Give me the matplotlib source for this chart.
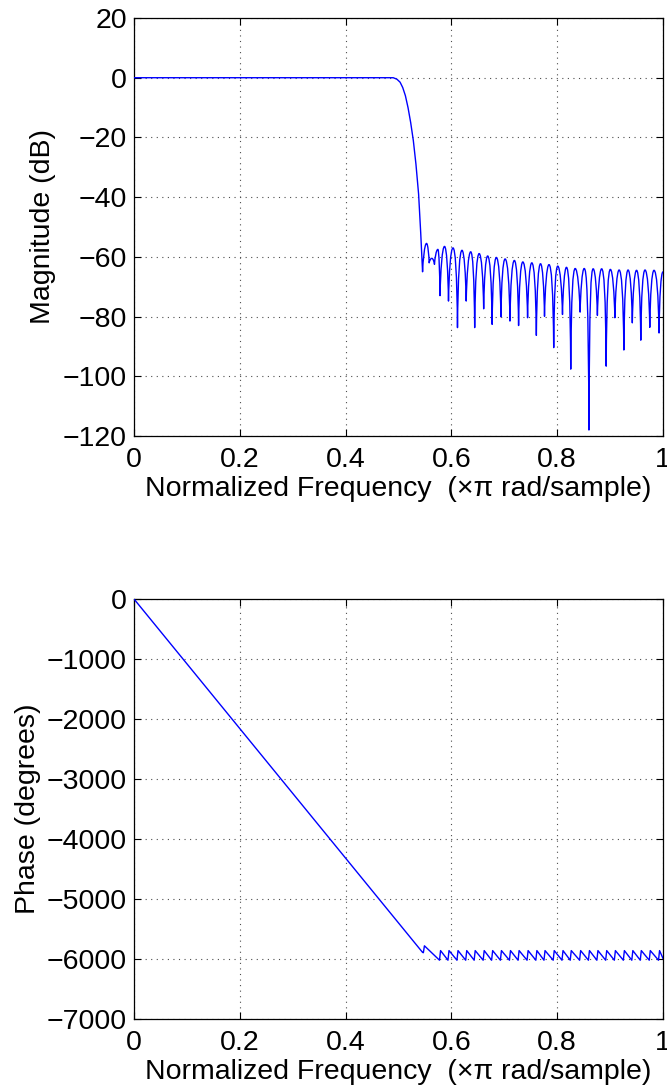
import matplotlib
matplotlib.use("Agg")
import matplotlib.pyplot as plt
from matplotlib.path import Path
from matplotlib.patches import PathPatch

# ---- magnitude response (dB) ----
# passband and transition band
pass_f = [0.0, 0.49, 0.497, 0.503, 0.508, 0.513, 0.518, 0.523, 0.528, 0.533, 0.538, 0.542, 0.5455]
pass_db = [0.0, 0.0, -0.5, -1.5, -3.3, -6.0, -10.0, -15.0, -21.0, -29.0, -39.0, -52.0, -65.0]

# stopband: alternating local minima / maxima
stop_f = [0.5455, 0.553, 0.558, 0.563, 0.568, 0.5745, 0.5785, 0.587, 0.5945, 0.603,
          0.6115, 0.620, 0.628, 0.6365, 0.644, 0.6525, 0.661, 0.6685, 0.677, 0.685,
          0.6936, 0.7015, 0.7107, 0.719, 0.727, 0.735, 0.744, 0.752, 0.7606, 0.7685,
          0.776, 0.7845, 0.7934, 0.801, 0.810, 0.8175, 0.8256, 0.834, 0.8433, 0.851,
          0.860, 0.868, 0.876, 0.884, 0.8926, 0.9005, 0.909, 0.917, 0.926, 0.934,
          0.942, 0.950, 0.958, 0.966, 0.975, 0.983, 0.9925, 1.0]
stop_db = [-65.0, -55.5, -62.0, -60.5, -62.5, -57.5, -73.0, -56.5, -74.8, -57.0,
           -83.7, -57.8, -74.8, -58.3, -83.7, -58.9, -77.4, -59.7, -82.6, -60.2,
           -80.1, -60.7, -81.5, -61.2, -83.0, -61.7, -80.4, -62.0, -86.3, -62.3,
           -79.9, -62.6, -90.4, -63.1, -79.3, -63.5, -97.6, -63.9, -78.5, -63.9,
           -118.0, -64.0, -79.6, -64.0, -96.6, -64.2, -80.4, -64.4, -91.2, -64.4,
           -82.1, -64.5, -87.9, -64.4, -83.6, -64.5, -85.5, -65.0]

# ---- phase response (degrees) ----
phase_lin_f = [0.0, 0.5455]
phase_lin_deg = [0.0, -5890.0]
# frequencies of the +180 degree phase jumps in the stopband
jump_f = [0.548, 0.5785, 0.5945, 0.6115, 0.628, 0.644, 0.661, 0.677, 0.6936, 0.7107,
          0.727, 0.744, 0.7606, 0.776, 0.7934, 0.810, 0.8256, 0.8433, 0.860, 0.876,
          0.8926, 0.909, 0.926, 0.942, 0.958, 0.975, 0.9925]
tooth_low = -6020.0
tooth_high = -5860.0
phase_end = -5990.0

xticks = [0, 0.2, 0.4, 0.6, 0.8, 1]
xticklabels = ["0", "0.2", "0.4", "0.6", "0.8", "1"]
mag_ticks = [20, 0, -20, -40, -60, -80, -100, -120]
phase_ticks = [0, -1000, -2000, -3000, -4000, -5000, -6000, -7000]

plt.rcParams["font.family"] = ["Liberation Sans", "DejaVu Sans"]
plt.rcParams["font.size"] = 20.5

BLUE = (0.0, 0.0, 1.0)


def magnitude_path():
    verts = [(pass_f[0], pass_db[0])]
    codes = [Path.MOVETO]
    for f, d in zip(pass_f[1:], pass_db[1:]):
        verts.append((f, d))
        codes.append(Path.LINETO)
    # rounded lobes between each minimum and maximum
    for i in range(len(stop_f) - 1):
        f1, d1, f2, d2 = stop_f[i], stop_db[i], stop_f[i + 1], stop_db[i + 1]
        w = f2 - f1
        if d2 > d1:
            drop = min(8.0, 0.6 * (d2 - d1))
            c1 = (f1 + 0.12 * w, d2 - drop)
            c2 = (f1 + 0.5 * w, d2)
        else:
            drop = min(8.0, 0.6 * (d1 - d2))
            c1 = (f2 - 0.5 * w, d1)
            c2 = (f2 - 0.12 * w, d1 - drop)
        verts += [c1, c2, (f2, d2)]
        codes += [Path.CURVE4] * 3
    return Path(verts, codes)


def phase_points():
    fs = list(phase_lin_f)
    ds = list(phase_lin_deg)
    fs.append(jump_f[0] - 0.001)
    ds.append(-5895.0)
    fs.append(jump_f[0] + 0.001)
    ds.append(-5780.0)
    for z in jump_f[1:]:
        fs += [z - 0.001, z + 0.001]
        ds += [tooth_low, tooth_high]
    fs.append(1.0)
    ds.append(phase_end)
    return fs, ds


def style(ax, yticks, ylim):
    ax.set_xlim(0, 1)
    ax.set_ylim(*ylim)
    ax.set_xticks(xticks)
    ax.set_xticklabels(xticklabels)
    ax.set_yticks(yticks)
    ax.grid(True, linestyle=(0, (1, 4)), color="0.3", linewidth=0.8)
    ax.tick_params(direction="in", top=True, right=True, length=5, width=0.8)
    ax.tick_params(axis="x", pad=8)
    ax.tick_params(axis="y", pad=5)
    for s in ax.spines.values():
        s.set_linewidth(0.9)
    ax.set_xlabel("Normalized Frequency  (\u00d7\u03c0 rad/sample)", labelpad=2)


fig = plt.figure(figsize=(6.67, 10.9), dpi=100)
ax1 = fig.add_axes([134 / 667, 1 - 436 / 1090, 529 / 667, 418 / 1090])
ax2 = fig.add_axes([134 / 667, 1 - 1019 / 1090, 529 / 667, 420 / 1090])

ax1.add_patch(PathPatch(magnitude_path(), fill=False, edgecolor=BLUE,
                        linewidth=1.0, joinstyle="round", zorder=3))
style(ax1, mag_ticks, (-120, 20))
ax1.set_ylabel("Magnitude (dB)")
ax1.yaxis.set_label_coords(-0.147, 0.5)

pf, pd_ = phase_points()
ax2.plot(pf, pd_, color=BLUE, linewidth=1.0, zorder=3)
style(ax2, phase_ticks, (-7000, 0))
ax2.set_ylabel("Phase (degrees)")
ax2.yaxis.set_label_coords(-0.176, 0.5)

fig.savefig("out.png", dpi=100)
